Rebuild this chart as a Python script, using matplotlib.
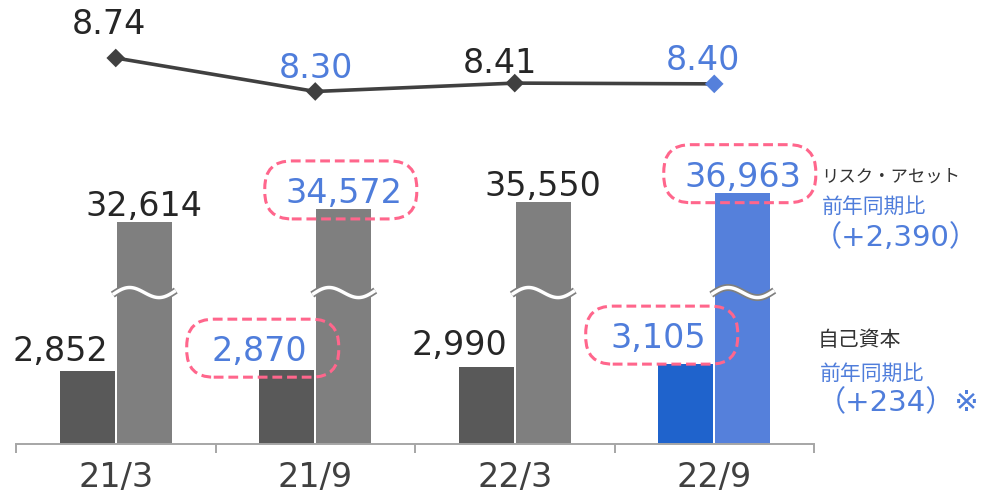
import matplotlib
matplotlib.use("Agg")
import matplotlib.pyplot as plt
import numpy as np
from matplotlib.patches import FancyBboxPatch
from matplotlib.transforms import ScaledTranslation, blended_transform_factory

# ---- data -------------------------------------------------------------
periods = ["21/3", "21/9", "22/3", "22/9"]
equity = [2852, 2870, 2990, 3105]            # 自己資本
risk_assets = [32614, 34572, 35550, 36963]   # リスク・アセット
ratio = [8.74, 8.30, 8.41, 8.40]             # 自己資本比率
blue_periods = ["21/9", "22/9"]              # periods whose labels are highlighted
latest = "22/9"

risk_note = "リスク・アセット"
equity_note = "自己資本"
yoy_label = "前年同期比"
risk_yoy = "（+2,390）"
equity_yoy = "（+234）※"

# ---- styling ----------------------------------------------------------
W, H = 984, 495
DARK_TXT = "#262626"
TICK_TXT = "#404040"
BLUE_TXT = "#4F7DDB"
PINK = "#FF668C"
EQ_GRAY, RISK_GRAY = "#595959", "#7F7F7F"
EQ_BLUE, RISK_BLUE = "#1F63CC", "#5580DB"
AXIS_GRAY = "#A6A6A6"
NUM_FONT = "DejaVu Sans"
JP_FONT = ["Noto Sans CJK JP", "DejaVu Sans"]
MIX_FONT = ["DejaVu Sans", "Noto Sans CJK JP"]


def pt(px):
    """pixels -> points at 100 dpi"""
    return px * 0.72


fig = plt.figure(figsize=(W / 100, H / 100), dpi=100)
fig.patch.set_facecolor("white")

ax = fig.add_axes([16 / W, 51 / H, 798 / W, 444 / H])   # equity + x axis
ax_r = ax.twinx()                                        # risk assets
ax_l = ax.twinx()                                        # ratio line
ax_r.set_zorder(1)
ax.set_zorder(2)
ax_l.set_zorder(3)
for a in (ax, ax_r, ax_l):
    a.patch.set_visible(False)
    for s in a.spines.values():
        s.set_visible(False)
    a.tick_params(axis="y", left=False, right=False, labelleft=False, labelright=False)

x = np.arange(len(periods))
offset = 0.143
bw = 0.2757
ax.set_xlim(-0.5, len(periods) - 0.5)
ax.set_ylim(0, 17260)
ax_r.set_ylim(0, 65300)
ax_l.set_ylim(3.668, 9.502)

is_blue = [p in blue_periods for p in periods]
is_latest = [p == latest for p in periods]

# bars
ax.bar(x - offset, equity, width=bw,
       color=[EQ_BLUE if f else EQ_GRAY for f in is_latest], zorder=2)
ax_r.bar(x + offset, risk_assets, width=bw,
         color=[RISK_BLUE if f else RISK_GRAY for f in is_latest], zorder=2)

# wavy break marks across the risk-asset bars
t = np.linspace(0, 1, 100)
blend = blended_transform_factory(ax_r.transData, ax_r.transAxes)
ext = bw + 8 / 199.5
for i in range(len(periods)):
    xs = (i + offset) + (t - 0.5) * ext
    ys = 0.340 + (6.0 * np.sin(2 * np.pi * t) + 4.0 * t - 1.5) / 444
    ax_r.plot(xs, ys, transform=blend, color="#808080", lw=5.0,
              solid_capstyle="butt", zorder=4, clip_on=False)
    ax_r.plot(xs, ys, transform=blend, color="white", lw=2.5,
              solid_capstyle="butt", zorder=5, clip_on=False)

# ratio line
ax_l.plot(x, ratio, color="#404040", lw=2.6, zorder=3)
ax_l.scatter(x, ratio, marker="D", s=9.5 ** 2,
             c=[RISK_BLUE if f else "#404040" for f in is_latest], zorder=4, linewidths=0)

# x axis
ax.spines["bottom"].set_visible(True)
ax.spines["bottom"].set_color(AXIS_GRAY)
ax.spines["bottom"].set_linewidth(1.4)
ax.set_xticks(x, periods)
ax.set_xticks(np.arange(-0.5, len(periods)), minor=True)
ax.tick_params(axis="x", which="major", length=0, pad=12.3, labelsize=24,
               labelcolor=TICK_TXT)
ax.tick_params(axis="x", which="minor", length=6.5, width=1.4, color=AXIS_GRAY,
               direction="out")
for lab in ax.get_xticklabels():
    lab.set_fontfamily(NUM_FONT)


def pill(a, xd, yd, dx_px, dy_px):
    """dashed rounded box centred at a pixel offset from a data point"""
    w, h = 1.52, 0.58
    tr = fig.dpi_scale_trans + ScaledTranslation(xd, yd, a.transData)
    box = FancyBboxPatch((dx_px / 100 - w / 2, dy_px / 100 - h / 2), w, h,
                         boxstyle="round,pad=0,rounding_size=0.27",
                         transform=tr, fill=False, edgecolor=PINK, lw=2.2,
                         linestyle=(0, (3.2, 1.6)), zorder=6, clip_on=False)
    a.add_patch(box)


# ratio labels
ratio_off = [(-6.5, 24), (0.5, 13.5), (-15, 10.5), (-11, 13.5)]
for i, v in enumerate(ratio):
    ax_l.annotate(f"{v:.2f}", (i, v), xytext=(pt(ratio_off[i][0]), pt(ratio_off[i][1])),
                  textcoords="offset points", ha="center", va="baseline",
                  fontsize=24, family=NUM_FONT,
                  color=BLUE_TXT if is_blue[i] else DARK_TXT, zorder=6)

# risk-asset labels
for i, v in enumerate(risk_assets):
    ax_r.annotate(f"{v:,}", (i + offset, v), xytext=(0, pt(6)),
                  textcoords="offset points", ha="center", va="baseline",
                  fontsize=24, family=NUM_FONT,
                  color=BLUE_TXT if is_blue[i] else DARK_TXT, zorder=6)
    if is_blue[i]:
        pill(ax_r, i + offset, v, -3, 19)

# equity labels
eq_dy = [9.5, 9, 12, 16]
for i, v in enumerate(equity):
    ax.annotate(f"{v:,}", (i - offset, v), xytext=(pt(-27), pt(eq_dy[i])),
                textcoords="offset points", ha="center", va="baseline",
                fontsize=24, family=NUM_FONT,
                color=BLUE_TXT if is_blue[i] else DARK_TXT, zorder=6)
    if is_blue[i]:
        pill(ax, i - offset, v, -24, eq_dy[i] + 13)

# side notes
fig.text(821 / W, 1 - 177 / H, risk_note, ha="left", va="center",
         fontsize=12.5, family=JP_FONT, color="#333333")
fig.text(822 / W, 1 - 206.5 / H, yoy_label, ha="left", va="center",
         fontsize=15, family=JP_FONT, color=BLUE_TXT)
fig.text(813 / W, 1 - 246 / H, risk_yoy, ha="left", va="baseline",
         fontsize=21, family=MIX_FONT, color=BLUE_TXT)
fig.text(818 / W, 1 - 340.5 / H, equity_note, ha="left", va="center",
         fontsize=15, family=JP_FONT, color="#333333")
fig.text(820 / W, 1 - 373.5 / H, yoy_label, ha="left", va="center",
         fontsize=15, family=JP_FONT, color=BLUE_TXT)
fig.text(817 / W, 1 - 411 / H, equity_yoy, ha="left", va="baseline",
         fontsize=21, family=MIX_FONT, color=BLUE_TXT)

fig.savefig("out.png", dpi=100, facecolor="white")
